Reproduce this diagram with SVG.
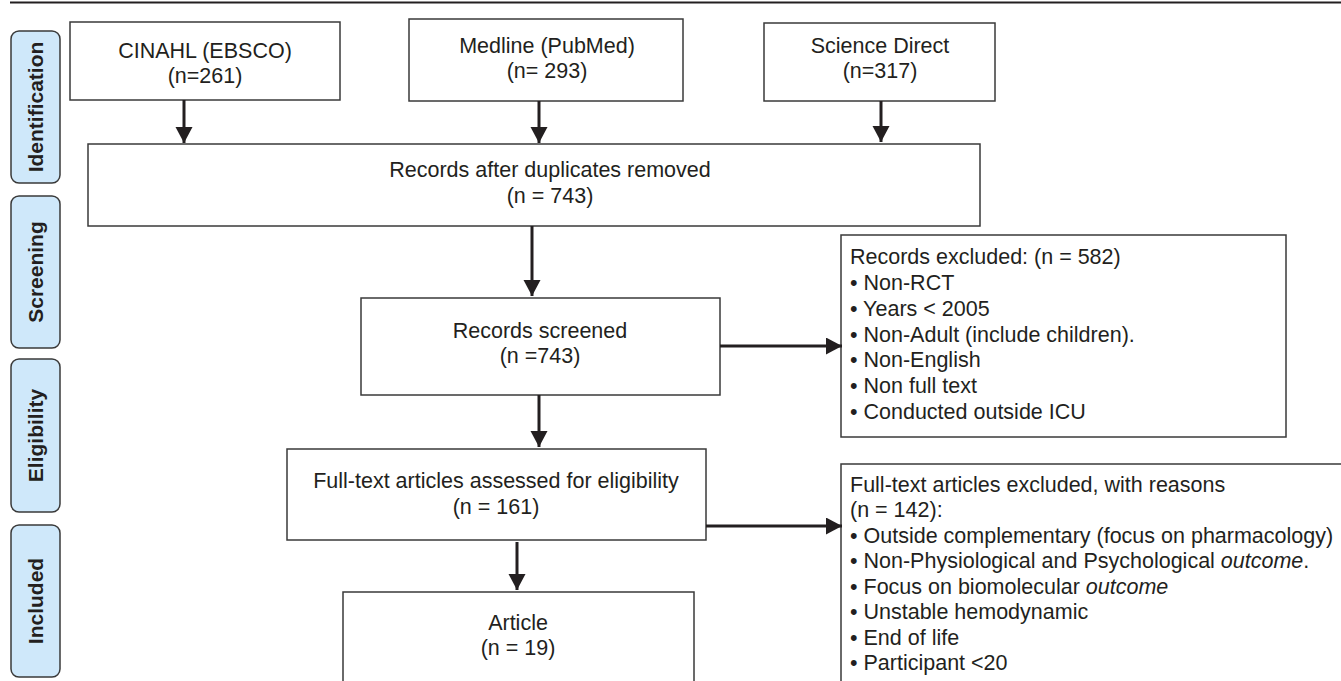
<svg xmlns="http://www.w3.org/2000/svg" width="1341" height="681" viewBox="0 0 1341 681">
<style>
  .box{fill:#fff;stroke:#3a3a3a;stroke-width:1.5}
  .phase{fill:#cfe8fa;stroke:#3a3a3a;stroke-width:1.5}
  .t{font-family:"Liberation Sans",Arial,sans-serif;font-size:21.5px;fill:#231f20}
  .c{text-anchor:middle}
  .pl{font-family:"Liberation Sans",Arial,sans-serif;font-size:21px;font-weight:bold;fill:#231f20;text-anchor:middle}
  .con{stroke:#231f20;stroke-width:3;fill:none}
</style>
<defs>
  <marker id="ah" markerUnits="userSpaceOnUse" markerWidth="17" markerHeight="18" refX="16" refY="8.5" orient="auto">
    <path d="M0,0 L16,8.5 L0,17 Z" fill="#231f20"/>
  </marker>
</defs>
<rect width="1341" height="681" fill="#fff"/>
<line x1="10" y1="2.5" x2="1341" y2="2.5" stroke="#231f20" stroke-width="2"/>

<g id="phase-identification">
  <rect class="phase" x="11" y="31" width="49" height="152" rx="8"/>
  <text class="pl" transform="translate(43,107) rotate(-90)">Identification</text>
</g>
<g id="phase-screening">
  <rect class="phase" x="11" y="196" width="49" height="152" rx="8"/>
  <text class="pl" transform="translate(43,272) rotate(-90)">Screening</text>
</g>
<g id="phase-eligibility">
  <rect class="phase" x="11" y="359" width="49" height="153" rx="8"/>
  <text class="pl" transform="translate(43,435.5) rotate(-90)">Eligibility</text>
</g>
<g id="phase-included">
  <rect class="phase" x="11" y="525" width="49" height="152" rx="8"/>
  <text class="pl" transform="translate(43,601) rotate(-90)">Included</text>
</g>

<g id="cinahl">
  <rect class="box" x="70" y="22" width="270" height="78"/>
  <text class="t c" x="205" y="58">CINAHL (EBSCO)</text>
  <text class="t c" x="205" y="83">(n=261)</text>
</g>
<g id="medline">
  <rect class="box" x="409" y="19" width="274" height="82"/>
  <text class="t c" x="547" y="53">Medline (PubMed)</text>
  <text class="t c" x="547" y="78">(n= 293)</text>
</g>
<g id="sciencedirect">
  <rect class="box" x="764" y="23" width="231" height="78"/>
  <text class="t c" x="880" y="53">Science Direct</text>
  <text class="t c" x="880" y="78">(n=317)</text>
</g>
<g id="duplicates">
  <rect class="box" x="88" y="144" width="892" height="82"/>
  <text class="t c" x="550" y="177">Records after duplicates removed</text>
  <text class="t c" x="550" y="203">(n = 743)</text>
</g>
<g id="screened">
  <rect class="box" x="361" y="298" width="359" height="97"/>
  <text class="t c" x="540" y="338">Records screened</text>
  <text class="t c" x="540" y="363">(n =743)</text>
</g>
<g id="excluded1">
  <rect class="box" x="841" y="235" width="445" height="202"/>
  <text class="t" x="850" y="264">Records excluded: (n = 582)</text>
  <text class="t" x="850" y="290">• Non-RCT</text>
  <text class="t" x="850" y="316">• Years &lt; 2005</text>
  <text class="t" x="850" y="342">• Non-Adult (include children).</text>
  <text class="t" x="850" y="367">• Non-English</text>
  <text class="t" x="850" y="393">• Non full text</text>
  <text class="t" x="850" y="419">• Conducted outside ICU</text>
</g>
<g id="fulltext">
  <rect class="box" x="287" y="449" width="419" height="91"/>
  <text class="t c" x="496" y="488">Full-text articles assessed for eligibility</text>
  <text class="t c" x="496" y="514">(n = 161)</text>
</g>
<g id="excluded2">
  <path class="box" d="M1345,464 H841 V685"/>
  <text class="t" x="850" y="492">Full-text articles excluded, with reasons</text>
  <text class="t" x="850" y="517">(n = 142):</text>
  <text class="t" x="850" y="543">• Outside complementary (focus on pharmacology)</text>
  <text class="t" x="850" y="568">• Non-Physiological and Psychological <tspan font-style="italic">outcome</tspan>.</text>
  <text class="t" x="850" y="594">• Focus on biomolecular <tspan font-style="italic">outcome</tspan></text>
  <text class="t" x="850" y="619">• Unstable hemodynamic</text>
  <text class="t" x="850" y="645">• End of life</text>
  <text class="t" x="850" y="670">• Participant &lt;20</text>
</g>
<g id="article">
  <rect class="box" x="343" y="592" width="351" height="95"/>
  <text class="t c" x="518" y="630">Article</text>
  <text class="t c" x="518" y="655">(n = 19)</text>
</g>

<g id="connectors">
  <line class="con" x1="184" y1="100" x2="184" y2="143" marker-end="url(#ah)"/>
  <line class="con" x1="539" y1="101" x2="539" y2="143" marker-end="url(#ah)"/>
  <line class="con" x1="881" y1="101" x2="881" y2="142" marker-end="url(#ah)"/>
  <line class="con" x1="532" y1="226" x2="532" y2="296" marker-end="url(#ah)"/>
  <line class="con" x1="720" y1="346" x2="842" y2="346" marker-end="url(#ah)"/>
  <line class="con" x1="539" y1="395" x2="539" y2="447" marker-end="url(#ah)"/>
  <line class="con" x1="706" y1="526" x2="842" y2="526" marker-end="url(#ah)"/>
  <line class="con" x1="517" y1="542" x2="517" y2="590" marker-end="url(#ah)"/>
</g>
</svg>
